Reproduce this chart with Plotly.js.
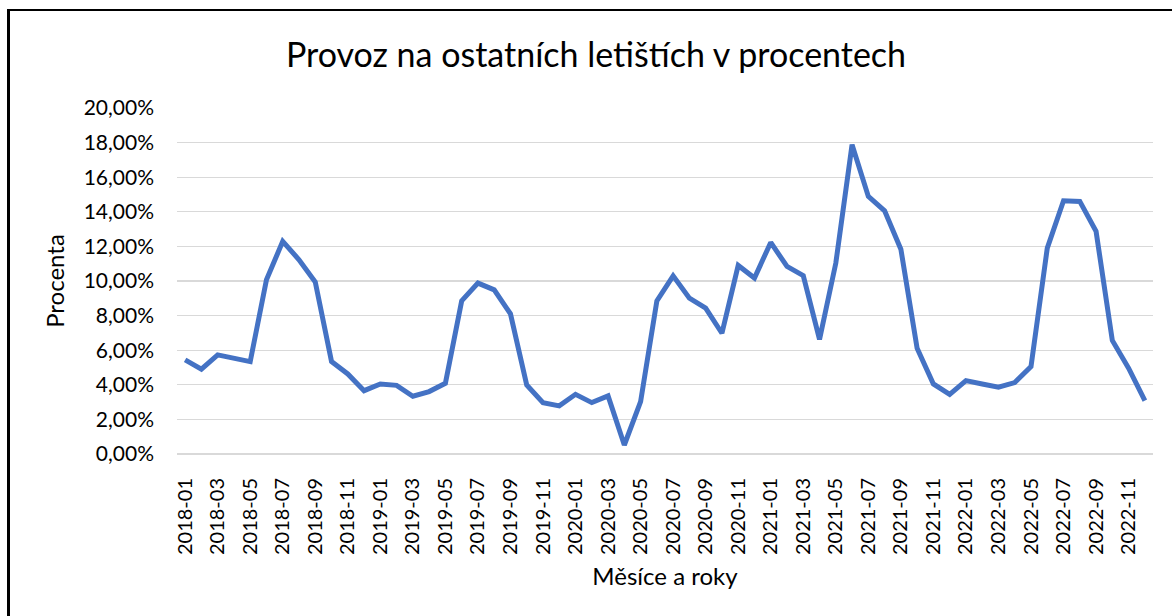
<!DOCTYPE html>
<html>
<head>
<meta charset="utf-8">
<script src="https://cdn.plot.ly/plotly-3.0.1.min.js"></script>
<style>
  html, body { margin: 0; padding: 0; background: #fff; overflow: hidden; }
  #chart { position: absolute; left: 0; top: 0; width: 1172px; height: 616px; }
  #frame { position: absolute; left: 7px; top: 9px; width: 1300px; height: 800px;
           border-left: 3px solid #000; border-top: 2px solid #000; pointer-events: none; }
</style>
</head>
<body>
<div id="chart"></div>
<div id="frame"></div>
<script>
const months = [
  "2018-01","2018-02","2018-03","2018-04","2018-05","2018-06","2018-07","2018-08","2018-09","2018-10","2018-11","2018-12",
  "2019-01","2019-02","2019-03","2019-04","2019-05","2019-06","2019-07","2019-08","2019-09","2019-10","2019-11","2019-12",
  "2020-01","2020-02","2020-03","2020-04","2020-05","2020-06","2020-07","2020-08","2020-09","2020-10","2020-11","2020-12",
  "2021-01","2021-02","2021-03","2021-04","2021-05","2021-06","2021-07","2021-08","2021-09","2021-10","2021-11","2021-12",
  "2022-01","2022-02","2022-03","2022-04","2022-05","2022-06","2022-07","2022-08","2022-09","2022-10","2022-11","2022-12"
];
const percent = [
  0.0544,0.0490,0.0573,0.0552,0.0534,0.1007,0.1229,0.1123,0.0994,0.0534,0.0463,0.0366,
  0.0405,0.0397,0.0334,0.0361,0.0409,0.0885,0.0988,0.0949,0.0810,0.0399,0.0297,0.0278,
  0.0345,0.0297,0.0336,0.0052,0.0303,0.0885,0.1030,0.0901,0.0843,0.0698,0.1090,0.1017,
  0.1223,0.1084,0.1031,0.0662,0.1103,0.1788,0.1489,0.1406,0.1184,0.0611,0.0405,0.0345,
  0.0424,0.0405,0.0386,0.0413,0.0505,0.1190,0.1464,0.1460,0.1287,0.0656,0.0496,0.0309
];
const yTicks = [0,0.02,0.04,0.06,0.08,0.10,0.12,0.14,0.16,0.18,0.20];
const xTickLabels = months.filter((m, i) => i % 2 === 0);

const FONT = "Lato, 'Open Sans', sans-serif";

const trace = {
  type: 'scatter',
  mode: 'lines',
  x: months,
  y: percent,
  line: { color: '#4472C4', width: 5 },
  hoverinfo: 'x+y'
};

const layout = {
  width: 1172,
  height: 616,
  margin: { l: 177, r: 19, t: 108, b: 162 },
  paper_bgcolor: '#ffffff',
  plot_bgcolor: '#ffffff',
  separators: ', ',
  showlegend: false,
  font: { family: FONT, color: '#000000' },
  title: {
    text: 'Provoz na ostatních letištích v procentech',
    font: { family: FONT, size: 34, color: '#000000' },
    xref: 'container', yref: 'container',
    x: 596 / 1172, xanchor: 'center',
    y: 1 - 55 / 616, yanchor: 'middle'
  },
  xaxis: {
    type: 'category',
    range: [-0.5, months.length - 0.5],
    tickmode: 'array',
    tickvals: xTickLabels,
    ticktext: xTickLabels,
    tickangle: -90,
    tickfont: { family: FONT, size: 20, color: '#000000' },
    ticks: '',
    showgrid: false,
    showline: false,
    zeroline: false,
    ticklabelstandoff: 19,
    title: { text: 'Měsíce a roky', font: { family: FONT, size: 24, color: '#000000' }, standoff: 14 }
  },
  yaxis: {
    range: [0, 0.2],
    tickmode: 'array',
    tickvals: yTicks,
    tickformat: '.2%',
    tickfont: { family: FONT, size: 21, color: '#000000' },
    ticks: '',
    showgrid: true,
    gridcolor: '#D9D9D9',
    gridwidth: 1.3,
    zeroline: true,
    zerolinecolor: '#D9D9D9',
    zerolinewidth: 1.3,
    showline: false,
    ticklabelstandoff: 22,
    title: { text: 'Procenta', font: { family: FONT, size: 24, color: '#000000' }, standoff: 12 }
  }
};

Plotly.newPlot('chart', [trace], layout, { displayModeBar: false, staticPlot: true });
</script>
</body>
</html>
